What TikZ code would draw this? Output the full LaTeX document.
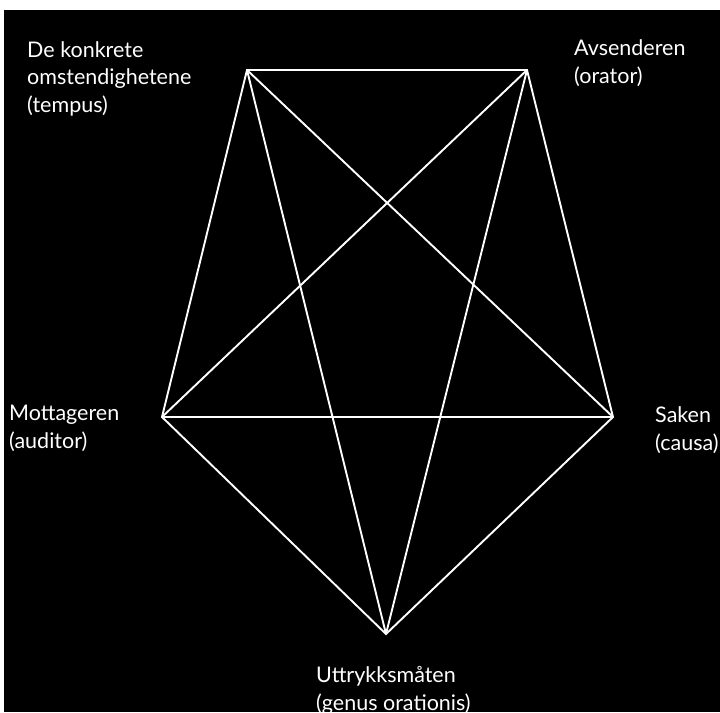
\documentclass[tikz,border=0pt]{standalone}
\usepackage{fontspec}
\setmainfont{Lato}
\begin{document}
\begin{tikzpicture}[x=1pt,y=-1pt,
  edge/.style={draw=white,line width=1.9pt},
  lbl/.style={text=white,anchor=base west,inner sep=0pt,align=left,font=\fontsize{21.5}{27.5}\selectfont}]
\useasboundingbox (0,0) rectangle (720,712);
\clip (0,0) rectangle (720,712);
\fill[white] (0,0) rectangle (720,712);
\fill[black] (4,10) rectangle (720,712);
\coordinate (tl) at (247,70);
\coordinate (tr) at (527,70);
\coordinate (l) at (162,417);
\coordinate (r) at (613,417);
\coordinate (b) at (386,634);
\draw[edge] (tl) -- (tr) -- (r) -- (b) -- (l) -- cycle;
\draw[edge] (tl) -- (r);
\draw[edge] (tl) -- (b);
\draw[edge] (tr) -- (l);
\draw[edge] (tr) -- (b);
\draw[edge] (l) -- (r);
\node[lbl] (t1) at (27,112) {De konkrete\\omstendighetene\\(tempus)};
\node[lbl] (t2) at (574,83) {Avsenderen\\(orator)};
\node[lbl] (t3) at (9,448) {Mottageren\\(auditor)};
\node[lbl] (t4) at (655,450) {Saken\\(causa)};
\node[lbl] (t5) at (316,710) {Uttrykksmåten\\(genus orationis)};
\end{tikzpicture}
\end{document}
